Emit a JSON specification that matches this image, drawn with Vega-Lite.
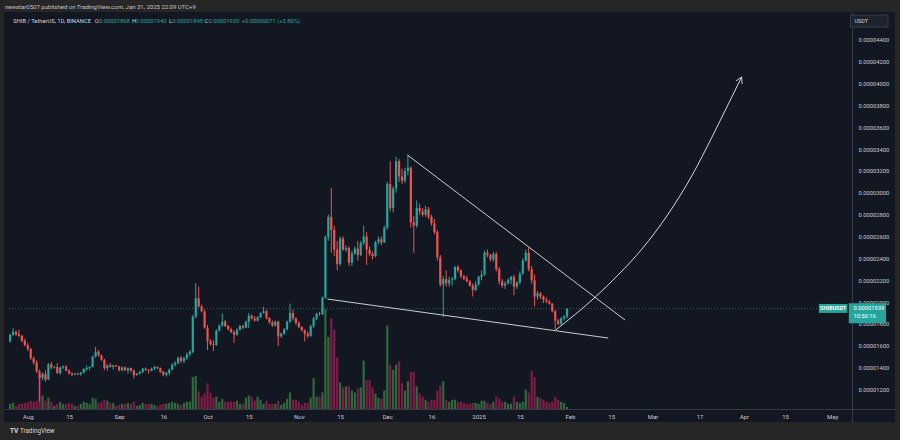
{
"$schema": "https://vega.github.io/schema/vega-lite/v6.json",
"width": 891, "height": 410,
"autosize": {"type": "none"},
"padding": {"left": 4, "top": 12, "right": 5, "bottom": 18},
"background": "#262626",
"view": {"fill": "#131722", "stroke": null},
"config": {"axis": {"labelOverlap": false, "labelSeparation": 0, "labelBound": false}},
"title": {"text": "newstar0507 published on TradingView.com, Jan 31, 2025 22:09 UTC+9", "anchor": "start", "frame": "group", "fontSize": 6, "font": "Roboto", "fontWeight": "normal", "color": "#c4c4c4", "offset": 2.5, "dx": 1},
"datasets": {
"candles": [
{"d":"2024-07-26","o":1640,"h":1710,"l":1625,"c":1698,"v":5},
{"d":"2024-07-27","o":1698,"h":1760,"l":1690,"c":1725,"v":6},
{"d":"2024-07-28","o":1725,"h":1740,"l":1690,"c":1705,"v":3},
{"d":"2024-07-29","o":1705,"h":1745,"l":1680,"c":1690,"v":5},
{"d":"2024-07-30","o":1690,"h":1700,"l":1630,"c":1645,"v":5},
{"d":"2024-07-31","o":1645,"h":1665,"l":1595,"c":1605,"v":6},
{"d":"2024-08-01","o":1605,"h":1625,"l":1550,"c":1570,"v":7},
{"d":"2024-08-02","o":1570,"h":1580,"l":1470,"c":1485,"v":8},
{"d":"2024-08-03","o":1485,"h":1500,"l":1430,"c":1445,"v":7},
{"d":"2024-08-04","o":1445,"h":1465,"l":1350,"c":1365,"v":8},
{"d":"2024-08-05","o":1365,"h":1380,"l":1090,"c":1305,"v":33},
{"d":"2024-08-06","o":1305,"h":1355,"l":1285,"c":1340,"v":13},
{"d":"2024-08-07","o":1340,"h":1375,"l":1270,"c":1290,"v":8},
{"d":"2024-08-08","o":1290,"h":1440,"l":1285,"c":1430,"v":11},
{"d":"2024-08-09","o":1430,"h":1450,"l":1385,"c":1400,"v":7},
{"d":"2024-08-10","o":1400,"h":1415,"l":1390,"c":1405,"v":3},
{"d":"2024-08-11","o":1405,"h":1440,"l":1340,"c":1350,"v":5},
{"d":"2024-08-12","o":1350,"h":1410,"l":1335,"c":1400,"v":7},
{"d":"2024-08-13","o":1400,"h":1420,"l":1385,"c":1410,"v":5},
{"d":"2024-08-14","o":1410,"h":1420,"l":1365,"c":1370,"v":5},
{"d":"2024-08-15","o":1370,"h":1385,"l":1335,"c":1345,"v":6},
{"d":"2024-08-16","o":1345,"h":1360,"l":1320,"c":1335,"v":5},
{"d":"2024-08-17","o":1335,"h":1350,"l":1330,"c":1345,"v":3},
{"d":"2024-08-18","o":1345,"h":1355,"l":1330,"c":1338,"v":3},
{"d":"2024-08-19","o":1338,"h":1360,"l":1325,"c":1352,"v":5},
{"d":"2024-08-20","o":1352,"h":1395,"l":1345,"c":1385,"v":7},
{"d":"2024-08-21","o":1385,"h":1420,"l":1370,"c":1395,"v":6},
{"d":"2024-08-22","o":1395,"h":1410,"l":1375,"c":1405,"v":5},
{"d":"2024-08-23","o":1405,"h":1510,"l":1400,"c":1500,"v":11},
{"d":"2024-08-24","o":1500,"h":1590,"l":1490,"c":1545,"v":10},
{"d":"2024-08-25","o":1545,"h":1560,"l":1500,"c":1510,"v":6},
{"d":"2024-08-26","o":1510,"h":1520,"l":1460,"c":1470,"v":7},
{"d":"2024-08-27","o":1470,"h":1480,"l":1375,"c":1395,"v":9},
{"d":"2024-08-28","o":1395,"h":1430,"l":1370,"c":1420,"v":8},
{"d":"2024-08-29","o":1420,"h":1440,"l":1400,"c":1405,"v":6},
{"d":"2024-08-30","o":1405,"h":1425,"l":1380,"c":1418,"v":6},
{"d":"2024-08-31","o":1418,"h":1425,"l":1405,"c":1410,"v":3},
{"d":"2024-09-01","o":1410,"h":1415,"l":1365,"c":1375,"v":4},
{"d":"2024-09-02","o":1375,"h":1410,"l":1365,"c":1400,"v":5},
{"d":"2024-09-03","o":1400,"h":1410,"l":1370,"c":1375,"v":5},
{"d":"2024-09-04","o":1375,"h":1400,"l":1345,"c":1395,"v":6},
{"d":"2024-09-05","o":1395,"h":1400,"l":1360,"c":1370,"v":5},
{"d":"2024-09-06","o":1370,"h":1385,"l":1300,"c":1330,"v":7},
{"d":"2024-09-07","o":1330,"h":1350,"l":1325,"c":1345,"v":3},
{"d":"2024-09-08","o":1345,"h":1370,"l":1335,"c":1360,"v":4},
{"d":"2024-09-09","o":1360,"h":1395,"l":1350,"c":1390,"v":6},
{"d":"2024-09-10","o":1390,"h":1400,"l":1370,"c":1378,"v":5},
{"d":"2024-09-11","o":1378,"h":1385,"l":1345,"c":1370,"v":5},
{"d":"2024-09-12","o":1370,"h":1400,"l":1365,"c":1390,"v":5},
{"d":"2024-09-13","o":1390,"h":1415,"l":1380,"c":1405,"v":4},
{"d":"2024-09-14","o":1405,"h":1410,"l":1385,"c":1395,"v":3},
{"d":"2024-09-15","o":1395,"h":1400,"l":1350,"c":1360,"v":4},
{"d":"2024-09-16","o":1360,"h":1370,"l":1320,"c":1335,"v":5},
{"d":"2024-09-17","o":1335,"h":1360,"l":1316,"c":1350,"v":5},
{"d":"2024-09-18","o":1350,"h":1390,"l":1330,"c":1380,"v":6},
{"d":"2024-09-19","o":1380,"h":1440,"l":1375,"c":1425,"v":7},
{"d":"2024-09-20","o":1425,"h":1460,"l":1410,"c":1440,"v":6},
{"d":"2024-09-21","o":1440,"h":1500,"l":1430,"c":1490,"v":5},
{"d":"2024-09-22","o":1490,"h":1505,"l":1440,"c":1460,"v":4},
{"d":"2024-09-23","o":1460,"h":1500,"l":1440,"c":1485,"v":6},
{"d":"2024-09-24","o":1485,"h":1535,"l":1470,"c":1520,"v":7},
{"d":"2024-09-25","o":1520,"h":1560,"l":1500,"c":1545,"v":7},
{"d":"2024-09-26","o":1545,"h":1880,"l":1530,"c":1865,"v":31},
{"d":"2024-09-27","o":1865,"h":2170,"l":1850,"c":2035,"v":32},
{"d":"2024-09-28","o":2035,"h":2140,"l":1950,"c":1960,"v":17},
{"d":"2024-09-29","o":1960,"h":1975,"l":1905,"c":1915,"v":12},
{"d":"2024-09-30","o":1915,"h":1930,"l":1755,"c":1765,"v":15},
{"d":"2024-10-01","o":1765,"h":1790,"l":1560,"c":1640,"v":25},
{"d":"2024-10-02","o":1640,"h":1660,"l":1600,"c":1615,"v":16},
{"d":"2024-10-03","o":1615,"h":1650,"l":1550,"c":1605,"v":11},
{"d":"2024-10-04","o":1605,"h":1750,"l":1600,"c":1740,"v":12},
{"d":"2024-10-05","o":1740,"h":1795,"l":1730,"c":1785,"v":7},
{"d":"2024-10-06","o":1785,"h":1896,"l":1770,"c":1820,"v":10},
{"d":"2024-10-07","o":1820,"h":1835,"l":1770,"c":1780,"v":7},
{"d":"2024-10-08","o":1780,"h":1790,"l":1740,"c":1750,"v":7},
{"d":"2024-10-09","o":1750,"h":1765,"l":1715,"c":1725,"v":7},
{"d":"2024-10-10","o":1725,"h":1740,"l":1625,"c":1700,"v":7},
{"d":"2024-10-11","o":1700,"h":1760,"l":1690,"c":1745,"v":8},
{"d":"2024-10-12","o":1745,"h":1790,"l":1740,"c":1780,"v":5},
{"d":"2024-10-13","o":1780,"h":1790,"l":1750,"c":1765,"v":5},
{"d":"2024-10-14","o":1765,"h":1830,"l":1760,"c":1820,"v":11},
{"d":"2024-10-15","o":1820,"h":1900,"l":1760,"c":1875,"v":13},
{"d":"2024-10-16","o":1875,"h":1885,"l":1840,"c":1850,"v":12},
{"d":"2024-10-17","o":1850,"h":1870,"l":1820,"c":1830,"v":8},
{"d":"2024-10-18","o":1830,"h":1870,"l":1820,"c":1860,"v":12},
{"d":"2024-10-19","o":1860,"h":1905,"l":1855,"c":1900,"v":9},
{"d":"2024-10-20","o":1900,"h":1957,"l":1895,"c":1915,"v":5},
{"d":"2024-10-21","o":1915,"h":1930,"l":1840,"c":1855,"v":8},
{"d":"2024-10-22","o":1855,"h":1860,"l":1800,"c":1815,"v":5},
{"d":"2024-10-23","o":1815,"h":1830,"l":1770,"c":1785,"v":5},
{"d":"2024-10-24","o":1785,"h":1830,"l":1775,"c":1820,"v":5},
{"d":"2024-10-25","o":1820,"h":1830,"l":1595,"c":1685,"v":8},
{"d":"2024-10-26","o":1685,"h":1720,"l":1670,"c":1710,"v":4},
{"d":"2024-10-27","o":1710,"h":1760,"l":1700,"c":1750,"v":6},
{"d":"2024-10-28","o":1750,"h":1830,"l":1740,"c":1820,"v":10},
{"d":"2024-10-29","o":1820,"h":1985,"l":1810,"c":1900,"v":16},
{"d":"2024-10-30","o":1900,"h":1930,"l":1830,"c":1850,"v":9},
{"d":"2024-10-31","o":1850,"h":1860,"l":1790,"c":1810,"v":9},
{"d":"2024-11-01","o":1810,"h":1820,"l":1760,"c":1770,"v":7},
{"d":"2024-11-02","o":1770,"h":1780,"l":1730,"c":1740,"v":4},
{"d":"2024-11-03","o":1740,"h":1750,"l":1640,"c":1710,"v":6},
{"d":"2024-11-04","o":1710,"h":1730,"l":1670,"c":1690,"v":6},
{"d":"2024-11-05","o":1690,"h":1790,"l":1680,"c":1780,"v":11},
{"d":"2024-11-06","o":1780,"h":1865,"l":1760,"c":1850,"v":30},
{"d":"2024-11-07","o":1850,"h":1900,"l":1835,"c":1895,"v":12},
{"d":"2024-11-08","o":1895,"h":1910,"l":1875,"c":1890,"v":12},
{"d":"2024-11-09","o":1890,"h":2050,"l":1880,"c":2040,"v":16},
{"d":"2024-11-10","o":2040,"h":2610,"l":2030,"c":2595,"v":97},
{"d":"2024-11-11","o":2595,"h":2800,"l":2560,"c":2780,"v":70},
{"d":"2024-11-12","o":2780,"h":3045,"l":2450,"c":2660,"v":88},
{"d":"2024-11-13","o":2660,"h":2700,"l":2420,"c":2480,"v":77},
{"d":"2024-11-14","o":2480,"h":2560,"l":2290,"c":2350,"v":50},
{"d":"2024-11-15","o":2350,"h":2600,"l":2330,"c":2580,"v":26},
{"d":"2024-11-16","o":2580,"h":2600,"l":2470,"c":2480,"v":21},
{"d":"2024-11-17","o":2480,"h":2520,"l":2460,"c":2495,"v":22},
{"d":"2024-11-18","o":2495,"h":2510,"l":2330,"c":2360,"v":22},
{"d":"2024-11-19","o":2360,"h":2470,"l":2330,"c":2445,"v":18},
{"d":"2024-11-20","o":2445,"h":2510,"l":2430,"c":2490,"v":16},
{"d":"2024-11-21","o":2490,"h":2560,"l":2380,"c":2430,"v":20},
{"d":"2024-11-22","o":2430,"h":2560,"l":2420,"c":2540,"v":21},
{"d":"2024-11-23","o":2540,"h":2700,"l":2520,"c":2600,"v":47},
{"d":"2024-11-24","o":2600,"h":2640,"l":2340,"c":2480,"v":28},
{"d":"2024-11-25","o":2480,"h":2510,"l":2420,"c":2440,"v":28},
{"d":"2024-11-26","o":2440,"h":2460,"l":2390,"c":2420,"v":21},
{"d":"2024-11-27","o":2420,"h":2560,"l":2410,"c":2550,"v":15},
{"d":"2024-11-28","o":2550,"h":2600,"l":2530,"c":2575,"v":11},
{"d":"2024-11-29","o":2575,"h":2600,"l":2520,"c":2545,"v":10},
{"d":"2024-11-30","o":2545,"h":2700,"l":2540,"c":2680,"v":18},
{"d":"2024-12-01","o":2680,"h":3100,"l":2660,"c":3080,"v":81},
{"d":"2024-12-02","o":3080,"h":3290,"l":2830,"c":2860,"v":43},
{"d":"2024-12-03","o":2860,"h":3060,"l":2820,"c":3040,"v":38},
{"d":"2024-12-04","o":3040,"h":3330,"l":3000,"c":3290,"v":43},
{"d":"2024-12-05","o":3290,"h":3310,"l":3100,"c":3150,"v":46},
{"d":"2024-12-06","o":3150,"h":3220,"l":3080,"c":3110,"v":25},
{"d":"2024-12-07","o":3110,"h":3230,"l":3090,"c":3200,"v":18},
{"d":"2024-12-08","o":3200,"h":3350,"l":3160,"c":3230,"v":27},
{"d":"2024-12-09","o":3230,"h":3240,"l":2680,"c":2730,"v":36},
{"d":"2024-12-10","o":2730,"h":2790,"l":2450,"c":2700,"v":36},
{"d":"2024-12-11","o":2700,"h":2930,"l":2680,"c":2860,"v":22},
{"d":"2024-12-12","o":2860,"h":2900,"l":2800,"c":2830,"v":15},
{"d":"2024-12-13","o":2830,"h":2860,"l":2780,"c":2800,"v":12},
{"d":"2024-12-14","o":2800,"h":2880,"l":2780,"c":2850,"v":9},
{"d":"2024-12-15","o":2850,"h":2870,"l":2760,"c":2780,"v":7},
{"d":"2024-12-16","o":2780,"h":2800,"l":2700,"c":2720,"v":9},
{"d":"2024-12-17","o":2720,"h":2760,"l":2620,"c":2640,"v":9},
{"d":"2024-12-18","o":2640,"h":2660,"l":2380,"c":2410,"v":18},
{"d":"2024-12-19","o":2410,"h":2430,"l":2140,"c":2160,"v":23},
{"d":"2024-12-20","o":2160,"h":2240,"l":1860,"c":2210,"v":27},
{"d":"2024-12-21","o":2210,"h":2290,"l":2140,"c":2170,"v":9},
{"d":"2024-12-22","o":2170,"h":2230,"l":2140,"c":2200,"v":7},
{"d":"2024-12-23","o":2200,"h":2230,"l":2150,"c":2210,"v":9},
{"d":"2024-12-24","o":2210,"h":2330,"l":2200,"c":2320,"v":9},
{"d":"2024-12-25","o":2320,"h":2340,"l":2270,"c":2290,"v":7},
{"d":"2024-12-26","o":2290,"h":2300,"l":2220,"c":2235,"v":7},
{"d":"2024-12-27","o":2235,"h":2250,"l":2200,"c":2215,"v":6},
{"d":"2024-12-28","o":2215,"h":2240,"l":2180,"c":2190,"v":5},
{"d":"2024-12-29","o":2190,"h":2200,"l":2140,"c":2150,"v":5},
{"d":"2024-12-30","o":2150,"h":2170,"l":2050,"c":2110,"v":6},
{"d":"2024-12-31","o":2110,"h":2190,"l":2100,"c":2160,"v":6},
{"d":"2025-01-01","o":2160,"h":2240,"l":2150,"c":2230,"v":5},
{"d":"2025-01-02","o":2230,"h":2290,"l":2200,"c":2250,"v":8},
{"d":"2025-01-03","o":2250,"h":2470,"l":2240,"c":2450,"v":8},
{"d":"2025-01-04","o":2450,"h":2480,"l":2410,"c":2430,"v":6},
{"d":"2025-01-05","o":2430,"h":2440,"l":2370,"c":2390,"v":5},
{"d":"2025-01-06","o":2390,"h":2460,"l":2370,"c":2440,"v":7},
{"d":"2025-01-07","o":2440,"h":2460,"l":2280,"c":2300,"v":12},
{"d":"2025-01-08","o":2300,"h":2320,"l":2160,"c":2190,"v":10},
{"d":"2025-01-09","o":2190,"h":2210,"l":2130,"c":2150,"v":7},
{"d":"2025-01-10","o":2150,"h":2190,"l":2120,"c":2170,"v":7},
{"d":"2025-01-11","o":2170,"h":2220,"l":2160,"c":2200,"v":5},
{"d":"2025-01-12","o":2200,"h":2240,"l":2160,"c":2230,"v":5},
{"d":"2025-01-13","o":2230,"h":2250,"l":2060,"c":2140,"v":12},
{"d":"2025-01-14","o":2140,"h":2190,"l":2120,"c":2180,"v":7},
{"d":"2025-01-15","o":2180,"h":2280,"l":2160,"c":2260,"v":6},
{"d":"2025-01-16","o":2260,"h":2400,"l":2250,"c":2380,"v":7},
{"d":"2025-01-17","o":2380,"h":2480,"l":2370,"c":2450,"v":19},
{"d":"2025-01-18","o":2450,"h":2500,"l":2280,"c":2300,"v":16},
{"d":"2025-01-19","o":2300,"h":2330,"l":2170,"c":2200,"v":37},
{"d":"2025-01-20","o":2200,"h":2250,"l":1960,"c":2050,"v":31},
{"d":"2025-01-21","o":2050,"h":2100,"l":2020,"c":2080,"v":12},
{"d":"2025-01-22","o":2080,"h":2090,"l":2030,"c":2050,"v":11},
{"d":"2025-01-23","o":2050,"h":2060,"l":1990,"c":2020,"v":9},
{"d":"2025-01-24","o":2020,"h":2040,"l":1990,"c":2005,"v":7},
{"d":"2025-01-25","o":2005,"h":2020,"l":1975,"c":1985,"v":6},
{"d":"2025-01-26","o":1985,"h":1990,"l":1905,"c":1915,"v":7},
{"d":"2025-01-27","o":1915,"h":1925,"l":1745,"c":1830,"v":12},
{"d":"2025-01-28","o":1830,"h":1845,"l":1790,"c":1800,"v":9},
{"d":"2025-01-29","o":1800,"h":1860,"l":1790,"c":1850,"v":7},
{"d":"2025-01-30","o":1850,"h":1880,"l":1830,"c":1868,"v":6},
{"d":"2025-01-31","o":1868,"h":1940,"l":1848,"c":1939,"v":2}
],
"drawings": [
{"id":"upper","i":0,"t":"2024-12-07T20:37:00Z","p":3346},
{"id":"upper","i":1,"t":"2025-02-19T16:26:00Z","p":1835},
{"id":"lower","i":0,"t":"2024-11-10T16:16:00Z","p":2027},
{"id":"lower","i":1,"t":"2025-02-13T23:30:00Z","p":1670},
{"id":"head","i":0,"t":"2025-03-29T08:04:00Z","p":4025},
{"id":"head","i":1,"t":"2025-03-31T06:46:00Z","p":4061},
{"id":"head","i":2,"t":"2025-03-31T09:59:00Z","p":3996}
],
"curve": [
{"i":0,"t":"2025-01-27T04:41:00Z","p":1744},
{"i":1,"t":"2025-02-09T14:48:00Z","p":2046},
{"i":2,"t":"2025-02-17T08:04:00Z","p":2247},
{"i":3,"t":"2025-02-25T17:24:00Z","p":2495},
{"i":4,"t":"2025-03-06T02:44:00Z","p":2797},
{"i":5,"t":"2025-03-14T12:05:00Z","p":3163},
{"i":6,"t":"2025-03-21T05:10:00Z","p":3511},
{"i":7,"t":"2025-03-26T22:03:00Z","p":3822},
{"i":8,"t":"2025-03-31T06:46:00Z","p":4061}
],
"header": [
{"t":"SHIB / TetherUS, 1D, BINANCE","at":"2024-07-27T01:37:00Z","k":"label"},
{"t":"O","at":"2024-08-23T17:14:00Z","k":"label"},
{"t":"0.00001868","at":"2024-08-25T03:52:00Z","k":"value"},
{"t":"H","at":"2024-09-05T08:04:00Z","k":"label"},
{"t":"0.00001940","at":"2024-09-06T13:51:00Z","k":"value"},
{"t":"L","at":"2024-09-17T21:16:00Z","k":"label"},
{"t":"0.00001848","at":"2024-09-18T23:50:00Z","k":"value"},
{"t":"C","at":"2024-09-29T23:11:00Z","k":"label"},
{"t":"0.00001939","at":"2024-10-01T07:25:00Z","k":"value"},
{"t":"+0.00000071 (+3.80%)","at":"2024-10-12T14:01:00Z","k":"value"}
],
"pricetag": [
{"t":"0.00001939","p":1945},
{"t":"10:50:16","p":1869}
]
},
"resolve": {"scale": {"y": "independent"}},
"layer": [
{
"data": {"name": "candles"},
"mark": {"type": "bar", "width": 2.2},
"encoding": {
"x": {"field": "d", "type": "temporal",
"scale": {"domain": [{"year":2024,"month":7,"date":25,"hours":14,"minutes":59,"utc":true},{"year":2025,"month":5,"date":20,"hours":14,"minutes":48,"utc":true}]},
"axis": {"orient": "bottom", "offset": -13, "title": null, "ticks": false, "grid": false, "labelPadding": 4, "labelFont": "Roboto", "labelFontSize": 6, "labelColor": "#c8cbd3", "domainColor": "#363a45", "labelFlush": false, "labelOverlap": false,
"values": [
{"year":2024,"month":8,"date":1,"utc":true},{"year":2024,"month":8,"date":15,"utc":true},
{"year":2024,"month":9,"date":1,"utc":true},{"year":2024,"month":9,"date":16,"utc":true},
{"year":2024,"month":10,"date":1,"utc":true},{"year":2024,"month":10,"date":15,"utc":true},
{"year":2024,"month":11,"date":1,"utc":true},{"year":2024,"month":11,"date":15,"utc":true},
{"year":2024,"month":12,"date":1,"utc":true},{"year":2024,"month":12,"date":16,"utc":true},
{"year":2025,"month":1,"date":1,"utc":true},{"year":2025,"month":1,"date":15,"utc":true},
{"year":2025,"month":2,"date":1,"utc":true},{"year":2025,"month":2,"date":15,"utc":true},
{"year":2025,"month":3,"date":1,"utc":true},{"year":2025,"month":3,"date":17,"utc":true},
{"year":2025,"month":4,"date":1,"utc":true},{"year":2025,"month":4,"date":15,"utc":true},
{"year":2025,"month":5,"date":1,"utc":true}],
"labelExpr": "utcdate(datum.value) == 1 ? (utcmonth(datum.value) == 0 ? utcFormat(datum.value, '%Y') : utcFormat(datum.value, '%b')) : utcFormat(datum.value, '%-d')"}},
"y": {"field": "v", "type": "quantitative", "scale": {"domain": [-12.6, 385.4], "nice": false, "zero": false}, "axis": null},
"y2": {"datum": 0},
"color": {"condition": {"test": "datum.c >= datum.o", "value": "#2e6a3b"}, "value": "#7e1c46"}
}
},
{
"layer": [
{
"data": {"values": [{"p": 1939}]},
"mark": {"type": "rule", "strokeDash": [1, 2], "strokeWidth": 1, "color": "#26a69a", "opacity": 0.6},
"encoding": {
"x": {"datum": {"year":2024,"month":7,"date":25,"hours":14,"minutes":59,"utc":true}, "type": "temporal"},
"x2": {"datum": {"year":2025,"month":5,"date":6,"hours":4,"minutes":30,"utc":true}},
"y": {"field": "p", "type": "quantitative", "scale": {"domain": [901, 4656], "nice": false, "zero": false},
"axis": {"orient": "right", "offset": -43, "title": null, "ticks": false, "grid": false, "labelPadding": 6, "labelFont": "Roboto", "labelFontSize": 5.8, "labelColor": "#c8cbd3", "labelAlign": "left", "labelBaseline": "middle", "domainColor": "#363a45", "labelFlush": false, "labelOverlap": false, "labelSeparation": 0, "tickCount": 17,
"values": [1200,1400,1600,1800,2000,2200,2400,2600,2800,3000,3200,3400,3600,3800,4000,4200,4400],
"labelExpr": "'0.0000' + datum.value"}}
}
},
{
"data": {"name": "candles"},
"mark": {"type": "rule", "strokeWidth": 1},
"encoding": {
"x": {"field": "d", "type": "temporal"},
"y": {"field": "l", "type": "quantitative", "scale": {"domain": [901, 4656], "nice": false, "zero": false}},
"y2": {"field": "h"},
"color": {"condition": {"test": "datum.c >= datum.o", "value": "#26a69a"}, "value": "#ef5350"}
}
},
{
"data": {"name": "candles"},
"mark": {"type": "bar", "width": 2.2},
"encoding": {
"x": {"field": "d", "type": "temporal"},
"y": {"field": "o", "type": "quantitative", "scale": {"domain": [901, 4656], "nice": false, "zero": false}},
"y2": {"field": "c"},
"color": {"condition": {"test": "datum.c >= datum.o", "value": "#26a69a"}, "value": "#ef5350"}
}
},
{
"data": {"name": "drawings"},
"mark": {"type": "line", "strokeWidth": 1, "color": "#c9ccd4"},
"encoding": {
"x": {"field": "t", "type": "temporal"},
"y": {"field": "p", "type": "quantitative", "scale": {"domain": [901, 4656], "nice": false, "zero": false}},
"detail": {"field": "id"},
"order": {"field": "i"}
}
},
{
"data": {"name": "curve"},
"mark": {"type": "line", "strokeWidth": 1, "color": "#d6d8de", "interpolate": "monotone"},
"encoding": {
"x": {"field": "t", "type": "temporal"},
"y": {"field": "p", "type": "quantitative", "scale": {"domain": [901, 4656], "nice": false, "zero": false}},
"order": {"field": "i"}
}
},
{
"data": {"values": [{}]},
"mark": {"type": "rect", "color": "#26a69a"},
"encoding": {
"x": {"datum": {"year":2025,"month":4,"date":26,"hours":10,"minutes":57,"utc":true}, "type": "temporal"},
"x2": {"datum": {"year":2025,"month":5,"date":6,"hours":4,"minutes":30,"utc":true}},
"y": {"datum": 1982, "type": "quantitative", "scale": {"domain": [901, 4656], "nice": false, "zero": false}},
"y2": {"datum": 1900}
}
},
{
"data": {"values": [{}]},
"mark": {"type": "text", "color": "#ffffff", "font": "Roboto", "fontSize": 5.5, "fontWeight": "bold", "align": "center", "baseline": "middle"},
"encoding": {
"x": {"datum": {"year":2025,"month":5,"date":1,"hours":7,"minutes":44,"utc":true}, "type": "temporal"},
"y": {"datum": 1942, "type": "quantitative", "scale": {"domain": [901, 4656], "nice": false, "zero": false}},
"text": {"value": "SHIBUSDT"}
}
},
{
"data": {"values": [{}]},
"mark": {"type": "rect", "color": "#26a69a"},
"encoding": {
"x": {"datum": {"year":2025,"month":5,"date":6,"hours":14,"minutes":58,"utc":true}, "type": "temporal"},
"x2": {"datum": {"year":2025,"month":5,"date":19,"hours":6,"minutes":36,"utc":true}},
"y": {"datum": 1988, "type": "quantitative", "scale": {"domain": [901, 4656], "nice": false, "zero": false}},
"y2": {"datum": 1805}
}
},
{
"data": {"name": "pricetag"},
"mark": {"type": "text", "color": "#ffffff", "font": "Roboto", "fontSize": 5.8, "align": "left", "baseline": "middle"},
"encoding": {
"x": {"datum": {"year":2025,"month":5,"date":8,"hours":4,"minutes":49,"utc":true}, "type": "temporal"},
"y": {"field": "p", "type": "quantitative", "scale": {"domain": [901, 4656], "nice": false, "zero": false}},
"text": {"field": "t"}
}
},
{
"data": {"values": [{}]},
"mark": {"type": "rect", "color": "#1e222d", "stroke": "#434651", "strokeWidth": 0.8},
"encoding": {
"x": {"datum": {"year":2025,"month":5,"date":7,"hours":4,"minutes":41,"utc":true}, "type": "temporal"},
"x2": {"datum": {"year":2025,"month":5,"date":19,"hours":22,"minutes":42,"utc":true}},
"y": {"datum": 4628, "type": "quantitative", "scale": {"domain": [901, 4656], "nice": false, "zero": false}},
"y2": {"datum": 4518}
}
},
{
"data": {"values": [{}]},
"mark": {"type": "text", "color": "#d1d4dc", "font": "Roboto", "fontSize": 5.5, "align": "left", "baseline": "middle"},
"encoding": {
"x": {"datum": {"year":2025,"month":5,"date":8,"hours":12,"minutes":53,"utc":true}, "type": "temporal"},
"y": {"datum": 4573, "type": "quantitative", "scale": {"domain": [901, 4656], "nice": false, "zero": false}},
"text": {"value": "USDT"}
}
},
{
"data": {"name": "header"},
"mark": {"type": "text", "font": "Roboto", "fontSize": 5.8, "align": "left", "baseline": "middle"},
"encoding": {
"x": {"field": "at", "type": "temporal"},
"y": {"datum": 4576, "type": "quantitative", "scale": {"domain": [901, 4656], "nice": false, "zero": false}},
"text": {"field": "t"},
"color": {"field": "k", "type": "nominal", "scale": {"domain": ["label", "value"], "range": ["#d1d4dc", "#26a69a"]}, "legend": null}
}
},
{
"data": {"values": [{}]},
"mark": {"type": "text", "color": "#d9d9d9", "font": "Roboto", "fontSize": 6.5, "fontWeight": "bold", "align": "left", "baseline": "middle"},
"encoding": {
"x": {"datum": {"year":2024,"month":7,"date":25,"hours":23,"minutes":2,"utc":true}, "type": "temporal"},
"y": {"datum": 819, "type": "quantitative", "scale": {"domain": [901, 4656], "nice": false, "zero": false}},
"text": {"value": "TV"}
}
},
{
"data": {"values": [{}]},
"mark": {"type": "text", "color": "#d9d9d9", "font": "Roboto", "fontSize": 6.3, "align": "left", "baseline": "middle"},
"encoding": {
"x": {"datum": {"year":2024,"month":7,"date":29,"hours":7,"minutes":34,"utc":true}, "type": "temporal"},
"y": {"datum": 819, "type": "quantitative", "scale": {"domain": [901, 4656], "nice": false, "zero": false}},
"text": {"value": "TradingView"}
}
}
]
}
]
}
